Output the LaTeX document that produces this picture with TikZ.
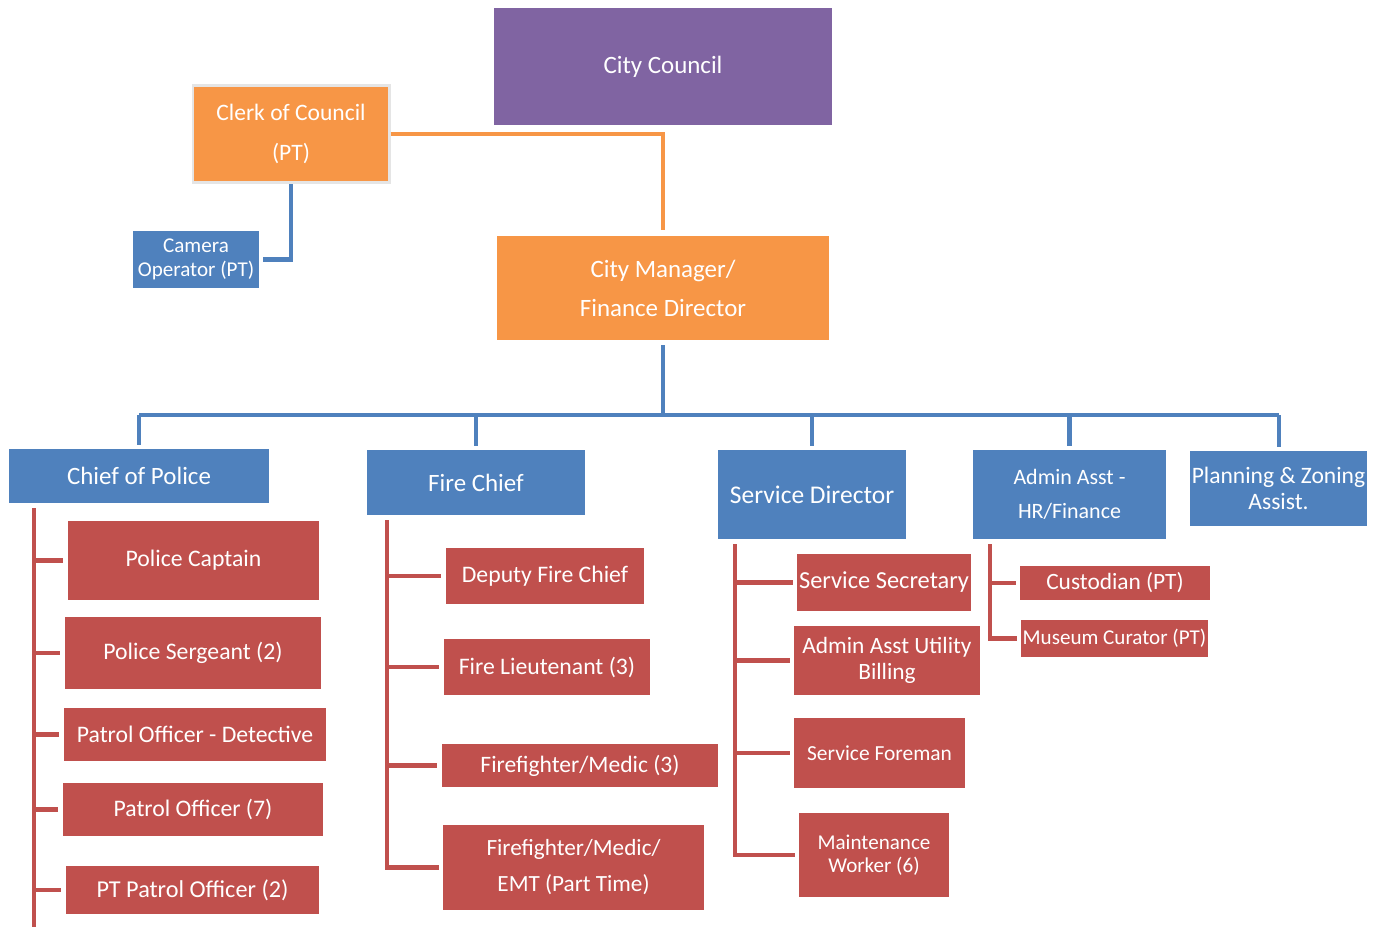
\documentclass[tikz,border=0pt]{standalone}
\usepackage{fontspec}
\setmainfont{Carlito}
\usetikzlibrary{positioning}
\definecolor{ccpurple}{HTML}{8064A2}
\definecolor{ccorange}{HTML}{F79646}
\definecolor{ccblue}{HTML}{4F81BD}
\definecolor{ccred}{HTML}{C0504D}
\tikzset{
  box/.style={rectangle, inner sep=0pt, text=white, align=center,
    font=\fontsize{13.5pt}{16pt}\selectfont},
  sz/.style 2 args={minimum width=#1*0.02cm, minimum height=#2*0.02cm},
  purplebox/.style={box, fill=ccpurple},
  orangebox/.style={box, fill=ccorange},
  bluebox/.style={box, fill=ccblue},
  redbox/.style={box, fill=ccred},
  big/.style={font=\fontsize{14.2pt}{17pt}\selectfont},
  blueline/.style={draw=ccblue, line width=2.3pt},
  redline/.style={draw=ccred, line width=2.3pt},
  orangeline/.style={draw=ccorange, line width=2.3pt}
}
\begin{document}
\begin{tikzpicture}[x=0.02cm, y=-0.02cm]
  \useasboundingbox[fill=white] (0,0) rectangle (1381,927);
  % top of the chart
  \node[purplebox, big, sz={338}{117}] (council) at (663,66.5) {City Council};
  \node[orangebox, sz={196}{97}, draw=black!10, line width=1.7pt,
    font=\fontsize{13.4pt}{22.8pt}\selectfont] (clerk) at (291,134) {Clerk of Council\\(PT)};
  \node[bluebox, sz={126}{57}, font=\fontsize{12pt}{13.7pt}\selectfont] (camera) at (196,259.5) {Camera\\Operator (PT)};
  \node[orangebox, sz={332}{104}, font=\fontsize{14.2pt}{22.2pt}\selectfont] (manager) at (663,288) {City Manager/\\Finance Director};
  % department heads
  \node[bluebox, big, sz={260}{54}] (police) at (139,476) {Chief of Police};
  \node[bluebox, big, sz={218}{65}] (fire) at (476,482.5) {Fire Chief};
  \node[bluebox, sz={188}{89}, font=\fontsize{14.5pt}{17pt}\selectfont] (service) at (812,494.5) {Service Director};
  \node[bluebox, sz={193}{89}, font=\fontsize{12.5pt}{19.3pt}\selectfont] (hrfin) at (1069.5,494.5) {Admin Asst -\\HR/Finance};
  \node[bluebox, sz={177}{75}, font=\fontsize{13.4pt}{14.8pt}\selectfont] (planning) at (1278.5,488.5) {Planning \& Zoning\\Assist.};
  % police
  \node[redbox, sz={251}{79}] (captain) at (193.5,560.5) {Police Captain};
  \node[redbox, sz={256}{72}] (sergeant) at (193,653) {Police Sergeant (2)};
  \node[redbox, sz={262}{53}] (detective) at (195,734.5) {Patrol Officer - Detective};
  \node[redbox, sz={260}{53}] (patrol) at (193,809.5) {Patrol Officer (7)};
  \node[redbox, sz={253}{48}, font=\fontsize{13.8pt}{16pt}\selectfont] (ptpatrol) at (192.5,890) {PT Patrol Officer (2)};
  % fire
  \node[redbox, sz={198}{56}] (deputy) at (545,576) {Deputy Fire Chief};
  \node[redbox, sz={206}{56}] (lieutenant) at (547,667) {Fire Lieutenant (3)};
  \node[redbox, sz={276}{43}, font=\fontsize{13.4pt}{16pt}\selectfont] (medic) at (580,765.5) {Firefighter/Medic (3)};
  \node[redbox, sz={261}{85}, font=\fontsize{13.2pt}{20.5pt}\selectfont] (emt) at (573.5,867.5) {Firefighter/Medic/\\EMT (Part Time)};
  % service
  \node[redbox, sz={174}{57}, font=\fontsize{13.9pt}{16pt}\selectfont] (secretary) at (884,582.5) {Service Secretary};
  \node[redbox, sz={186}{69}, font=\fontsize{13.3pt}{14.8pt}\selectfont] (billing) at (887,660.5) {Admin Asst Utility\\Billing};
  \node[redbox, sz={171}{70}, font=\fontsize{12.2pt}{14.6pt}\selectfont] (foreman) at (879.5,753) {Service Foreman};
  \node[redbox, sz={150}{84}, font=\fontsize{12pt}{13.1pt}\selectfont] (maint) at (874,855) {Maintenance\\Worker (6)};
  % admin
  \node[redbox, sz={190}{34}, font=\fontsize{13.3pt}{16pt}\selectfont] (custodian) at (1115,583) {Custodian (PT)};
  \node[redbox, sz={187}{37}, font=\fontsize{12pt}{14pt}\selectfont] (curator) at (1114.5,638.5) {Museum Curator (PT)};

  % connectors
  \draw[orangeline, shorten >=0.12cm] (clerk.east) -| (manager.north);
  \draw[blueline, shorten >=0.08cm] (clerk.south) |- (camera.east);
  \coordinate (bus) at (663,415);
  \draw[blueline, shorten <=0.1cm] (manager.south) -- (bus);
  \draw[blueline] (police.north |- bus) -- (planning.north |- bus);
  \foreach \n in {police,fire,service,hrfin,planning}
    \draw[blueline, shorten >=0.08cm] (\n.north |- bus) -- (\n.north);

  \coordinate (polspine) at (34,508);
  \coordinate (polend) at (34,927);
  \draw[redline] (polspine) -- (polend);
  \foreach \n in {captain,sergeant,detective,patrol,ptpatrol}
    \draw[redline] (polspine |- \n.west) -- ([xshift=-0.1cm]\n.west);

  \coordinate (firespine) at (387,520);
  \draw[redline] (firespine) |- ([xshift=-0.08cm]emt.west);
  \foreach \n in {deputy,lieutenant,medic}
    \draw[redline] (firespine |- \n.west) -- ([xshift=-0.1cm]\n.west);

  \coordinate (servspine) at (735,544);
  \draw[redline] (servspine) |- ([xshift=-0.08cm]maint.west);
  \foreach \n in {secretary,billing,foreman}
    \draw[redline] (servspine |- \n.west) -- ([xshift=-0.08cm]\n.west);

  \coordinate (admspine) at (990,544);
  \draw[redline] (admspine) |- ([xshift=-0.08cm]curator.west);
  \draw[redline] (admspine |- custodian.west) -- ([xshift=-0.08cm]custodian.west);
\end{tikzpicture}
\end{document}
